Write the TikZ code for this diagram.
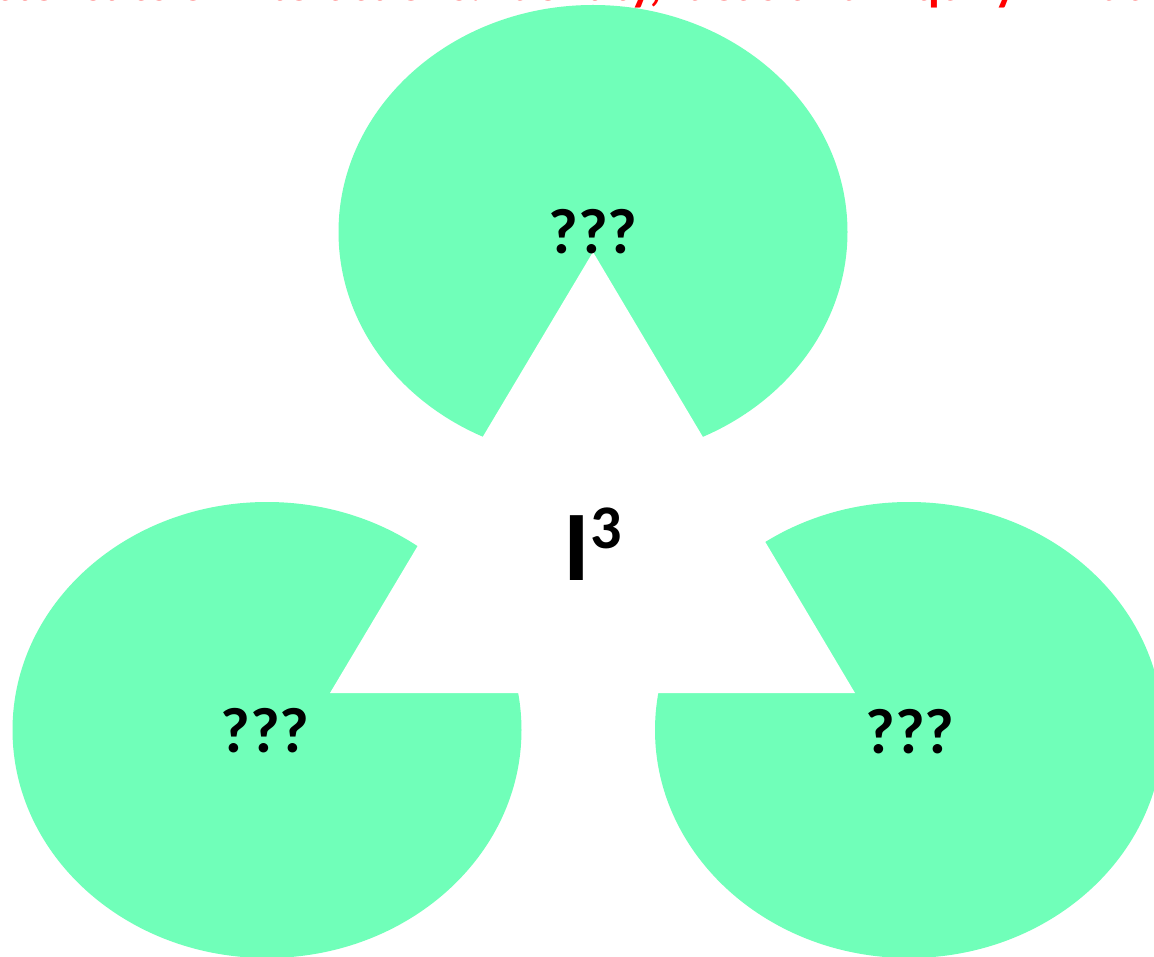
\documentclass[tikz,border=0pt]{standalone}
\usepackage{fontspec}
\setmainfont{Carlito}
\usetikzlibrary{shapes.geometric}
\definecolor{mint}{RGB}{112,255,185}
\definecolor{redtxt}{RGB}{255,0,0}
\tikzset{
  blob/.style={ellipse, fill=mint, draw=none, inner sep=0pt},
  qmark/.style={inner sep=0pt, font=\bfseries\fontsize{64}{64}\selectfont, text=black},
  cut/.style={fill=white, draw=none}
}
\begin{document}
\begin{tikzpicture}[x=1pt,y=1pt]
\useasboundingbox (0,0) rectangle (1154,-957);
\clip (0,0) rectangle (1154,-957);
\fill[white] (0,0) rectangle (1154,-957);
% cut-off red title
\node[inner sep=0pt, anchor=south, text=redtxt, font=\bfseries\fontsize{48}{48}\selectfont] (title) at (577,-15) {\strut Characteristics of Interactions: Identity, Ideas and Inquiry in Education};
% three ellipses
\node[blob, minimum width=509pt, minimum height=454pt] (top) at (593,-232) {};
\node[blob, minimum width=509pt, minimum height=456pt] (left) at (267,-730) {};
\node[blob, minimum width=508pt, minimum height=456pt] (right) at (909,-730) {};
% central white triangle
\coordinate (apex) at (593,-252);
\coordinate (bl) at (330,-693);
\coordinate (br) at (855,-693);
\fill[cut] (apex) -- (bl) -- (br) -- cycle;
% labels
\node[qmark] (qt) at (593,-232) {???};
\node[qmark] (ql) at (265,-731) {???};
\node[qmark] (qr) at (910,-732) {???};
\node[inner sep=0pt, anchor=base, text=black] (i3) at (593,-580)
  {\bfseries\fontsize{100}{100}\selectfont I\raisebox{32pt}{\fontsize{62}{62}\selectfont 3}};
\end{tikzpicture}
\end{document}
